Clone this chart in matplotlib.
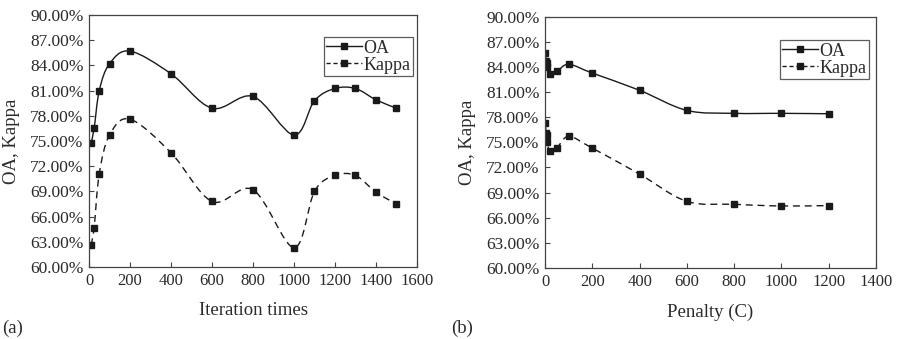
import numpy as np
import matplotlib
matplotlib.use("Agg")
import matplotlib.pyplot as plt
from matplotlib.path import Path
from matplotlib.patches import PathPatch
from matplotlib.lines import Line2D

# (a) iteration times
iter_x = [10, 25, 50, 100, 200, 400, 600, 800, 1000, 1100, 1200, 1300, 1400, 1500]
iter_oa = [74.8, 76.5, 81.0, 84.2, 85.7, 83.0, 78.9, 80.3, 75.7, 79.8, 81.25, 81.25, 79.9, 78.9]
iter_kappa = [62.6, 64.7, 71.1, 75.7, 77.6, 73.6, 67.8, 69.2, 62.3, 69.0, 70.9, 70.9, 68.9, 67.5]

# (b) penalty C
pen_x = [1, 5, 8, 10, 20, 50, 100, 200, 400, 600, 800, 1000, 1200]
pen_oa = [85.6, 84.7, 84.4, 84.0, 83.2, 83.45, 84.3, 83.25, 81.2, 78.8, 78.45, 78.45, 78.4]
pen_kappa = [77.25, 76.1, 75.9, 75.0, 74.0, 74.3, 75.7, 74.3, 71.2, 67.95, 67.6, 67.4, 67.45]

yticks = [60, 63, 66, 69, 72, 75, 78, 81, 84, 87, 90]

plt.rcParams['font.family'] = ['Liberation Serif', 'DejaVu Serif']
txt = '#2a2a2a'
ink = '#1a1a1a'


def smooth_path(x, y):
    # cubic bezier through the points (excel-like smoothing)
    p = np.column_stack([x, y]).astype(float)
    n = len(p)
    verts = [p[0]]
    codes = [Path.MOVETO]
    for i in range(n - 1):
        p0 = p[i - 1] if i > 0 else p[i]
        p3 = p[i + 2] if i + 2 < n else p[i + 1]
        c1 = p[i] + (p[i + 1] - p0) / 6.0
        c2 = p[i + 1] - (p3 - p[i]) / 6.0
        verts += [c1, c2, p[i + 1]]
        codes += [Path.CURVE4] * 3
    return Path(verts, codes)


def draw(ax, x, oa, kappa, xmax, xlabel, leg_anchor):
    ax.add_patch(PathPatch(smooth_path(x, oa), fill=False, edgecolor=ink, lw=1.0))
    ax.add_patch(PathPatch(smooth_path(x, kappa), fill=False, edgecolor=ink, lw=1.0,
                           linestyle=(0, (5, 3.5))))
    ax.plot(x, oa, 's', color=ink, ms=4)
    ax.plot(x, kappa, 's', color=ink, ms=4)
    ax.set_xlim(0, xmax)
    ax.set_ylim(60, 90)
    ax.set_xticks(range(0, xmax + 1, 200))
    ax.set_yticks(yticks)
    ax.set_yticklabels(['%.2f%%' % v for v in yticks])
    ax.tick_params(direction='in', length=3.5, width=0.8, colors='#444444',
                   labelcolor=txt, pad=4)
    ax.tick_params(axis='x', labelsize=12)
    ax.tick_params(axis='y', labelsize=12.5)
    for s in ax.spines.values():
        s.set_color('#444444')
        s.set_linewidth(0.9)
    ax.set_xlabel(xlabel, fontsize=13.5, color=txt, labelpad=10)
    ax.set_ylabel('OA, Kappa', fontsize=13.5, color=txt, labelpad=7)
    handles = [Line2D([], [], color=ink, lw=1.0, marker='s', ms=4),
               Line2D([], [], color=ink, lw=1.0, marker='s', ms=4, linestyle=(0, (3, 2)))]
    leg = ax.legend(handles, ['OA', 'Kappa'], loc='upper right', bbox_to_anchor=leg_anchor,
                    fontsize=13, frameon=True, fancybox=False, borderpad=0.15,
                    labelspacing=0.0, handlelength=2.0, handletextpad=0.05,
                    borderaxespad=0)
    leg.get_frame().set_edgecolor('#333333')
    leg.get_frame().set_linewidth(0.9)
    for t in leg.get_texts():
        t.set_color(txt)


fig = plt.figure(figsize=(9.01, 3.39), dpi=100)
ax1 = fig.add_axes([0.0988, 0.2124, 0.364, 0.7434])
ax2 = fig.add_axes([0.6049, 0.2094, 0.3674, 0.7419])

draw(ax1, iter_x, iter_oa, iter_kappa, 1600, 'Iteration times', (0.988, 0.913))
draw(ax2, pen_x, pen_oa, pen_kappa, 1400, 'Penalty (C)', (0.979, 0.907))

fig.text(0.002, 1 - 328 / 339, '(a)', fontsize=13.5, color=txt, va='center')
fig.text(0.5005, 1 - 328 / 339, '(b)', fontsize=13.5, color=txt, va='center')

fig.savefig('out.png', dpi=100)
